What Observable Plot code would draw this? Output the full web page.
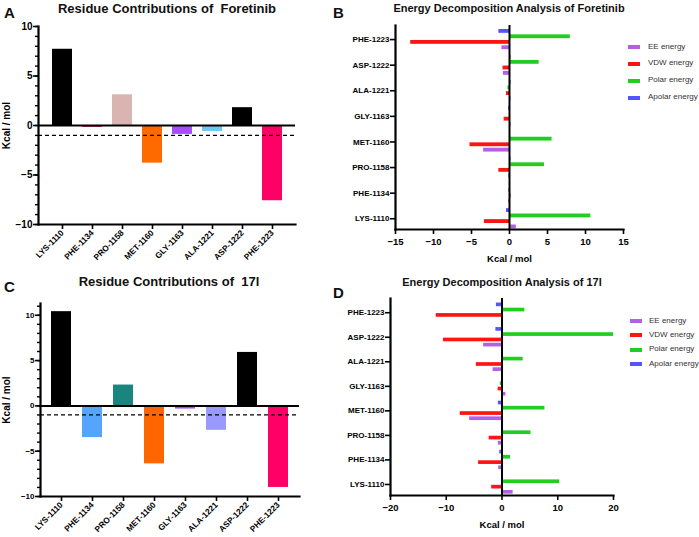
<!DOCTYPE html>
<html><head><meta charset="utf-8">
<script src="https://cdn.jsdelivr.net/npm/d3@7"></script>
<script src="https://cdn.jsdelivr.net/npm/@observablehq/plot@0.6"></script>
<style>
body{margin:0;background:#fff;font-family:"Liberation Sans",Arial,sans-serif;}
#wrap{position:relative;width:699px;height:537px;overflow:hidden;background:#fff}
.title{position:absolute;font-weight:bold;white-space:pre;transform:translate(-50%,-50%);line-height:1;color:#111}
.letter{position:absolute;font-weight:bold;font-size:15px;line-height:1;color:#111}
.legrow{position:absolute;font-size:8px;color:#333;white-space:nowrap;line-height:1}
.sw{position:absolute;height:4px;width:12px}
</style></head><body><div id="wrap"></div>
<script>
// ---- data ----
const residues = ["LYS-1110","PHE-1134","PRO-1158","MET-1160","GLY-1163","ALA-1221","ASP-1222","PHE-1223"];
const contribForetinib = [7.7, -0.2, 3.1, -3.8, -0.9, -0.6, 1.8, -7.6];
const colorsForetinib = ["#000000","#e8336b","#d9b4b1","#ff6a00","#a64dff","#6cc8f5","#000000","#ff0066"];
const contrib17l = [10.4, -3.5, 2.3, -6.4, -0.35, -2.7, 5.9, -9.0];
const colors17l = ["#000000","#55a5ff","#1a857f","#ff6600","#a64dff","#9999ff","#000000","#ff0066"];
const energyTypes = ["EE energy","VDW energy","Polar energy","Apolar energy"];
const energyColors = ["#b260e6","#ff1414","#22cc22","#5555ff"];
// Foretinib decomposition (residue order as above)
const eeForetinib     = [0.9, -0.1, -0.1, -3.4, 0.2, 0.2, -0.8, -1.0];
const vdwForetinib    = [-3.3, 0.2, -1.4, -5.2, -0.7, -0.4, -0.85, -13.0];
const polarForetinib  = [10.7, -0.1, 4.6, 5.6, 0, -0.2, 3.9, 8.0];
const apolarForetinib = [-0.4, 0, 0.2, 0.1, -0.1, 0.2, 0.2, -1.4];
// 17l decomposition
const ee17l     = [2.0, -0.6, -0.65, -5.8, 0.7, -1.6, -3.3, -0.1];
const vdw17l    = [-1.85, -4.2, -2.3, -7.5, -0.7, -4.6, -10.5, -11.8];
const polar17l  = [10.35, 1.55, 5.2, 7.7, -0.3, 3.8, 20.0, 4.1];
const apolar17l = [0, -0.4, 0.25, -0.65, 0, 0, -1.1, -1.0];
const yTicksMajor = [-10, -5, 0, 5, 10];
const xTicksB = [-15, -10, -5, 0, 5, 10, 15];
const xTicksD = [-20, -10, 0, 10, 20];

const FONT = "Liberation Sans, Arial, sans-serif";
const wrap = document.getElementById("wrap");
function place(el, left, top){ el.style.position="absolute"; el.style.left=left+"px"; el.style.top=top+"px"; wrap.appendChild(el); }
function addText(cls, txt, left, top, size){ const d=document.createElement("div"); d.className=cls; d.textContent=txt; d.style.left=left+"px"; d.style.top=top+"px"; if(size) d.style.fontSize=size+"px"; wrap.appendChild(d); }

function contribPlot(values, colors, yDomain, w, h, m, tickFont, labelOffset){
  const data = residues.map((r,i)=>({residue:r, value:values[i]}));
  const minor = d3.range(Math.ceil(yDomain[0]), Math.floor(yDomain[1])+1);
  return Plot.plot({
    width:w, height:h, marginTop:m[0], marginRight:m[1], marginBottom:m[2], marginLeft:m[3],
    style:{fontFamily:FONT, fontWeight:"bold", background:"transparent", color:"#000", overflow:"visible"},
    x:{type:"band", domain:residues, padding:0.34},
    y:{domain:yDomain},
    color:{domain:residues, range:colors},
    marks:[
      Plot.barY(data,{x:"residue", y:"value", fill:"residue"}),
      Plot.ruleY([0],{strokeWidth:2}),
      Plot.ruleY([-1],{strokeDasharray:"4,3", strokeWidth:1.3}),
      Plot.frame({anchor:"left", strokeWidth:2.2}),
      Plot.frame({anchor:"bottom", strokeWidth:2.2}),
      Plot.axisY(minor,{tickSize:3, tickFormat:()=>"", label:null, strokeWidth:1.4}),
      Plot.axisY(yTicksMajor,{tickSize:5, tickPadding:1, fontSize:tickFont, strokeWidth:1.6, label:null}),
      Plot.axisY([],{fontSize:10, label:"Kcal / mol", labelAnchor:"center", labelOffset:labelOffset, labelArrow:"none"}),
      Plot.axisX({tickSize:5, tickPadding:2, tickRotate:-45, fontSize:8.3, label:null, strokeWidth:1.6})
    ]
  });
}

function decompPlot(series, xDomain, xTicks, yDomain, w, h, m){
  const offsets = {"EE energy":-0.32, "VDW energy":-0.11, "Polar energy":0.11, "Apolar energy":0.32};
  const half = 0.075;
  const data = residues.flatMap((r,i)=>series.map((s,k)=>({residue:r, idx:i, type:energyTypes[k], value:s[i]})));
  return Plot.plot({
    width:w, height:h, marginTop:m[0], marginRight:m[1], marginBottom:m[2], marginLeft:m[3],
    style:{fontFamily:FONT, fontWeight:"bold", background:"transparent", color:"#000", overflow:"visible"},
    x:{domain:xDomain},
    y:{domain:yDomain},
    color:{domain:energyTypes, range:energyColors},
    marks:[
      Plot.rect(data,{x1:d=>0, x2:"value", y1:d=>d.idx+offsets[d.type]-half, y2:d=>d.idx+offsets[d.type]+half, fill:"type"}),
      Plot.ruleX([0],{strokeWidth:2}),
      Plot.frame({anchor:"left", strokeWidth:2.2}),
      Plot.frame({anchor:"bottom", strokeWidth:2.2}),
      Plot.axisY(d3.range(residues.length),{tickFormat:i=>residues[i], tickSize:5, tickPadding:1, fontSize:8, label:null, strokeWidth:1.6}),
      Plot.axisX(xTicks,{tickSize:5, fontSize:9.5, strokeWidth:1.6, label:"Kcal / mol", labelAnchor:"center", labelOffset:32, labelArrow:"none"})
    ]
  });
}

function legend(left, top, step, swLeft){
  energyTypes.forEach((t,k)=>{
    const sw=document.createElement("div"); sw.className="sw"; sw.style.background=energyColors[k];
    place(sw, swLeft, top + k*step - 2);
    const tx=document.createElement("div"); tx.className="legrow"; tx.textContent=t;
    place(tx, left, top + k*step - 4.5);
  });
}

// Panel A
place(contribPlot(contribForetinib, colorsForetinib, [-10,10], 340, 268, [26,45,44,38], 10, 36), 0, 0);
// Panel C
place(contribPlot(contrib17l, colors17l, [-10,11.3], 340, 267, [33,41,41,40], 8, 38), 0, 270);
// Panel B
place(decompPlot([eeForetinib, vdwForetinib, polarForetinib, apolarForetinib], [-15,15], xTicksB, [-0.42,7.55], 359, 268, [25,76,39,55]), 340, 0);
// Panel D
place(decompPlot([ee17l, vdw17l, polar17l, apolar17l], [-20,20], xTicksD, [-0.45,7.58], 359, 267, [28,86,42,50]), 340, 270);

addText("title","Residue Contributions of  Foretinib",167,8,13);
addText("title","Energy Decomposition Analysis of Foretinib",509,8,11);
addText("title","Residue Contributions of  17l",169,281,13);
addText("title","Energy Decomposition Analysis of 17l",502,282,11);
addText("letter","A",4,5);
addText("letter","B",333,5);
addText("letter","C",4,279);
addText("letter","D",333,285);
legend(648, 47, 16.9, 628);
legend(649, 321, 14.35, 630);
</script></body></html>
